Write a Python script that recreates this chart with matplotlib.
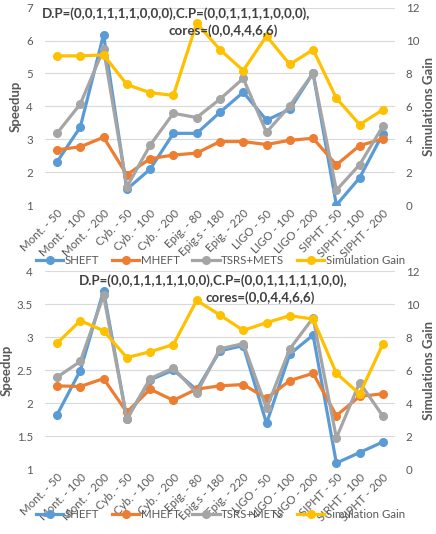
import matplotlib
matplotlib.use("Agg")
import matplotlib.pyplot as plt
from matplotlib.lines import Line2D

plt.rcParams['font.family'] = ['Lato', 'DejaVu Sans']

categories = ["Mont. - 50", "Mont. - 100", "Mont. - 200", "Cyb. - 50", "Cyb. - 100",
              "Cyb. - 200", "Epig. - 80", "Epig.s - 180", "Epig. - 220", "LIGO - 50",
              "LIGO - 100", "LIGO - 200", "SIPHT - 50", "SIPHT - 100", "SIPHT - 200"]

# top chart
sheft_1 = [2.31, 3.37, 6.18, 1.48, 2.09, 3.18, 3.18, 3.82, 4.43, 3.58, 3.91, 5.01, 1.0, 1.83, 3.17]
mheft_1 = [2.68, 2.77, 3.06, 1.92, 2.41, 2.52, 2.58, 2.93, 2.93, 2.84, 2.97, 3.03, 2.22, 2.81, 3.01]
tsrs_1 = [3.18, 4.07, 5.74, 1.55, 2.82, 3.79, 3.66, 4.22, 4.85, 3.21, 4.02, 5.01, 1.45, 2.23, 3.40]
gain_1 = [9.07, 9.07, 9.13, 7.33, 6.83, 6.67, 11.07, 9.45, 8.18, 10.28, 8.55, 9.45, 6.5, 4.89, 5.8]

# bottom chart
sheft_2 = [1.82, 2.49, 3.70, 1.76, 2.35, 2.50, 2.20, 2.79, 2.87, 1.69, 2.74, 3.03, 1.09, 1.25, 1.41]
mheft_2 = [2.26, 2.25, 2.37, 1.86, 2.21, 2.04, 2.21, 2.26, 2.28, 2.07, 2.34, 2.45, 1.81, 2.10, 2.14]
tsrs_2 = [2.39, 2.63, 3.63, 1.76, 2.37, 2.53, 2.15, 2.82, 2.90, 1.92, 2.82, 3.29, 1.47, 2.31, 1.80]
gain_2 = [7.62, 8.99, 8.38, 6.75, 7.11, 7.54, 10.22, 9.33, 8.40, 8.87, 9.29, 9.09, 5.80, 4.55, 7.58]

names = ["SHEFT", "MHEFT", "TSRS+METS", "Simulation Gain"]
colors = ["#5B9BD5", "#ED7D31", "#A5A5A5", "#FFC000"]
txt = "#595959"

fig = plt.figure(figsize=(4.36, 5.34), dpi=100)


def panel(rect, s, m, t, g, ylim, yticks, line1, line2, l1x, l2x, ty):
    ax = fig.add_axes(rect)
    ax2 = ax.twinx()
    x = range(len(categories))
    for vals, c in zip([s, m, t], colors[:3]):
        ax.plot(x, vals, color=c, lw=2.3, marker='o', ms=5.5)
    ax2.plot(x, g, color=colors[3], lw=2.3, marker='o', ms=5.5)
    ax.set_xlim(-0.5, len(categories) - 0.5)
    ax.set_ylim(*ylim)
    ax.set_yticks(yticks)
    ax.set_yticklabels(['{:g}'.format(v) for v in yticks])
    ax2.set_ylim(0, 12)
    ax2.set_yticks(range(0, 13, 2))
    ax.grid(axis='y', color='#D9D9D9', lw=0.8)
    ax.set_axisbelow(True)
    ax.set_xticks(list(x))
    ax.set_xticklabels(categories, rotation=45, ha='right', rotation_mode='anchor')
    for a in (ax, ax2):
        for sp in a.spines.values():
            sp.set_visible(False)
        a.tick_params(length=0, labelsize=8.3, labelcolor=txt)
    ax.tick_params(axis='y', pad=9)
    ax2.tick_params(axis='y', pad=8)
    ax.tick_params(axis='x', pad=2)
    ax.set_ylabel("Speedup", fontsize=9.5, fontweight='bold', color=txt, labelpad=3)
    ax2.set_ylabel("Simulations Gain", fontsize=9.5, fontweight='bold', color=txt, labelpad=3)
    fig.text(l1x / 436, 1 - ty / 534, line1, ha='center', va='center',
             fontsize=9.6, fontweight='bold', color='#404040')
    fig.text(l2x / 436, 1 - (ty + 17) / 534, line2, ha='center', va='center',
             fontsize=9.6, fontweight='bold', color='#404040')


panel([0.104, 0.616, 0.801, 0.3696], sheft_1, mheft_1, tsrs_1, gain_1, (1, 7), range(1, 8),
      "D.P=(0,0,1,1,1,1,0,0,0),C.P=(0,0,1,1,1,1,0,0,0),", "cores=(0,0,4,4,6,6)", 176, 223, 14)
panel([0.104, 0.1217, 0.801, 0.3708], sheft_2, mheft_2, tsrs_2, gain_2, (1, 4),
      [1, 1.5, 2, 2.5, 3, 3.5, 4],
      "D.P=(0,0,1,1,1,1,1,0,0),C.P=(0,0,1,1,1,1,1,0,0),", "cores=(0,0,4,4,6,6)", 213, 260, 281)

handles = [Line2D([], [], color=c, lw=2.3, marker='o', ms=5.5) for c in colors]
for ly in (261, 515):
    fig.legend(handles, names, loc='center', bbox_to_anchor=(0.505, 1 - ly / 534), ncol=4,
               frameon=False, fontsize=8.3, labelcolor=txt, handlelength=2.4,
               handletextpad=0.1, columnspacing=1.1, borderaxespad=0)

fig.savefig("out.png", dpi=100)
